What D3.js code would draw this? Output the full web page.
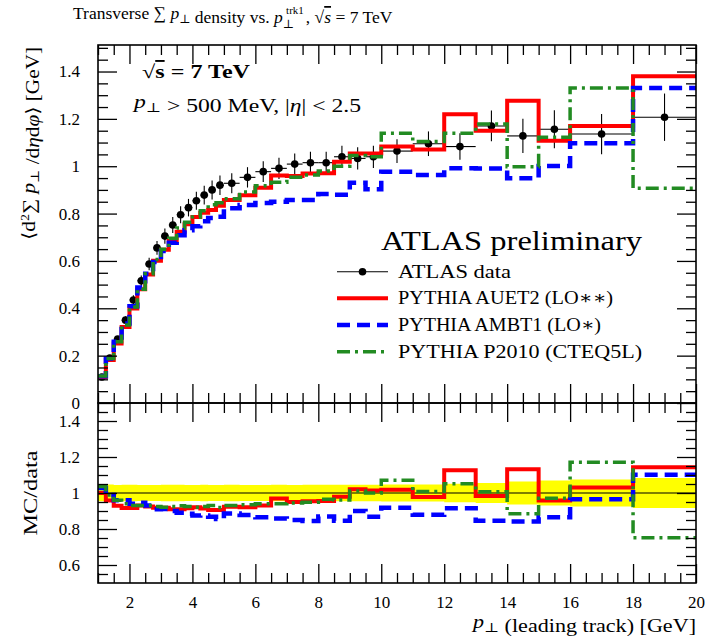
<!DOCTYPE html>
<html>
<head>
<meta charset="utf-8">
<script src="https://cdn.jsdelivr.net/npm/d3@7/dist/d3.min.js"></script>
<style>
  body { margin: 0; background: #fff; }
  svg { display: block; }
  text { font-family: "Liberation Serif", "DejaVu Serif", serif; fill: #000; }
</style>
</head>
<body>
<svg id="chart" width="706" height="640"></svg>
<script>
// Leading-track pT bin edges [GeV]
const binEdges = [1.0, 1.25, 1.5, 1.75, 2.0, 2.25, 2.5, 2.75, 3.0, 3.25, 3.5, 3.75, 4.0, 4.25, 4.5, 4.75, 5.0,
                  5.5, 6.0, 6.5, 7.0, 7.5, 8.0, 8.5, 9.0, 9.5, 10.0, 11, 12, 13, 14, 15, 16, 18, 20];

// ATLAS data: transverse sum pT density [GeV] and total uncertainty
const dataValues = [0.110, 0.190, 0.270, 0.350, 0.435, 0.516, 0.587, 0.655, 0.705, 0.752, 0.795, 0.825, 0.854, 0.878, 0.900, 0.920,
                    0.928, 0.953, 0.977, 0.991, 1.009, 1.015, 1.015, 1.040, 1.033, 1.040,
                    1.064, 1.095, 1.083, 1.170, 1.128, 1.156, 1.136, 1.207];
const dataErrors = [0.005, 0.009, 0.012, 0.016, 0.020, 0.023, 0.026, 0.029, 0.032, 0.034, 0.036, 0.037, 0.038, 0.040, 0.040, 0.041,
                    0.042, 0.043, 0.044, 0.045, 0.045, 0.046, 0.046, 0.047, 0.047, 0.047,
                    0.050, 0.052, 0.056, 0.065, 0.072, 0.080, 0.085, 0.100];

// PYTHIA AUET2 (LO**)
const auet2 = [0.110, 0.182, 0.251, 0.321, 0.399, 0.480, 0.543, 0.601, 0.647, 0.684, 0.723, 0.755, 0.786, 0.803, 0.815, 0.833,
               0.857, 0.877, 0.909, 0.961, 0.959, 0.969, 0.970, 1.019, 1.054, 1.054,
               1.083, 1.071, 1.220, 1.150, 1.277, 1.108, 1.170, 1.380];
// PYTHIA AMBT1 (LO*)
const ambt1 = [0.113, 0.188, 0.259, 0.336, 0.409, 0.488, 0.546, 0.596, 0.642, 0.677, 0.708, 0.730, 0.747, 0.768, 0.781, 0.787,
               0.822, 0.836, 0.845, 0.850, 0.857, 0.857, 0.883, 0.880, 0.930, 0.903,
               0.977, 0.963, 0.991, 0.990, 0.949, 1.001, 1.097, 1.330];
// PYTHIA P2010 (CTEQ5L)
const p2010 = [0.114, 0.188, 0.259, 0.329, 0.405, 0.480, 0.546, 0.606, 0.649, 0.696, 0.739, 0.763, 0.786, 0.812, 0.837, 0.846,
               0.863, 0.891, 0.918, 0.932, 0.953, 0.963, 0.980, 1.000, 1.045, 1.040,
               1.139, 1.104, 1.139, 1.178, 0.998, 1.122, 1.330, 0.907];

const xTickValues = [2, 4, 6, 8, 10, 12, 14, 16, 18, 20];
const mainYTicks = [0, 0.2, 0.4, 0.6, 0.8, 1.0, 1.2, 1.4];
const ratioYTicks = [0.6, 0.8, 1.0, 1.2, 1.4];

const series = [
  { name: "PYTHIA AUET2 (LO∗∗)", values: auet2, color: "#ff0000", width: 4, dash: null, legLen: 215 },
  { name: "PYTHIA AMBT1 (LO∗)", values: ambt1, color: "#0000ff", width: 4.5, dash: "13,7", legLen: 203 },
  { name: "PYTHIA P2010 (CTEQ5L)", values: p2010, color: "#228b22", width: 3.5, dash: "13,5,3,5", legLen: 244 }
];

const svg = d3.select("#chart");
const L = 98, R = 696, T = 45, MB = 403, RB = 583;

const x = d3.scaleLinear().domain([1, 20]).range([L, R]);
const y = d3.scaleLinear().domain([0, 1.512]).range([MB, T]);
const yr = d3.scaleLinear().domain([0.5, 1.5]).range([RB, MB]);

const defs = svg.append("defs");
defs.append("clipPath").attr("id", "clipMain").append("rect")
  .attr("x", L).attr("y", T).attr("width", R - L).attr("height", MB - T);
defs.append("clipPath").attr("id", "clipRatio").append("rect")
  .attr("x", L).attr("y", MB).attr("width", R - L).attr("height", RB - MB);

function stepPoints(vals) {
  const pts = [];
  vals.forEach((v, i) => { pts.push([binEdges[i], v]); pts.push([binEdges[i + 1], v]); });
  return pts;
}

// ---------- main panel ----------
const gMain = svg.append("g").attr("clip-path", "url(#clipMain)");

const bins = dataValues.map((v, i) => ({ lo: binEdges[i], hi: binEdges[i + 1], v, e: dataErrors[i] }));
const gData = gMain.append("g");
gData.selectAll("line.xe").data(bins).join("line")
  .attr("x1", d => x(d.lo)).attr("x2", d => x(d.hi))
  .attr("y1", d => y(d.v)).attr("y2", d => y(d.v))
  .attr("stroke", "#000").attr("stroke-width", 1.1);
gData.selectAll("line.ye").data(bins).join("line")
  .attr("x1", d => x((d.lo + d.hi) / 2)).attr("x2", d => x((d.lo + d.hi) / 2))
  .attr("y1", d => y(d.v - d.e)).attr("y2", d => y(d.v + d.e))
  .attr("stroke", "#000").attr("stroke-width", 1.1);
gData.selectAll("circle").data(bins).join("circle")
  .attr("cx", d => x((d.lo + d.hi) / 2)).attr("cy", d => y(d.v)).attr("r", 3.8)
  .attr("fill", "#000");

const lineMain = d3.line().x(d => x(d[0])).y(d => y(d[1]));
series.forEach(s => {
  gMain.append("path").attr("d", lineMain(stepPoints(s.values)))
    .attr("fill", "none").attr("stroke", s.color).attr("stroke-width", s.width)
    .attr("stroke-dasharray", s.dash);
});

// ---------- ratio panel ----------
const gRatio = svg.append("g").attr("clip-path", "url(#clipRatio)");
const band = d3.area().x(d => x(d[0])).y0(d => yr(1 - d[1])).y1(d => yr(1 + d[1]));
const relErr = dataErrors.map((e, i) => e / dataValues[i]);
gRatio.append("path").attr("d", band(stepPoints(relErr))).attr("fill", "#ffff00");
gRatio.append("line").attr("x1", L).attr("x2", R).attr("y1", yr(1)).attr("y2", yr(1))
  .attr("stroke", "#000").attr("stroke-width", 1.1);
const lineRatio = d3.line().x(d => x(d[0])).y(d => yr(d[1]));
series.forEach(s => {
  const r = s.values.map((v, i) => v / dataValues[i]);
  gRatio.append("path").attr("d", lineRatio(stepPoints(r)))
    .attr("fill", "none").attr("stroke", s.color).attr("stroke-width", s.width)
    .attr("stroke-dasharray", s.dash);
});

// ---------- axes ----------
const xMinor = d3.range(1, 20.01, 0.5).filter(v => Math.abs(v / 2 - Math.round(v / 2)) > 1e-6);
function styleAxis(g) {
  g.select(".domain").remove();
  g.selectAll(".tick line").attr("stroke", "#000").attr("stroke-width", 1.3);
  g.selectAll(".tick text").style("font-family", '"Liberation Serif", serif').style("font-size", "17px");
}
function xAxes(yPos, dir, showLabels) {
  const mk = dir === "top" ? d3.axisTop : d3.axisBottom;
  svg.append("g").attr("transform", `translate(0,${yPos})`)
    .call(mk(x).tickValues(xTickValues).tickSizeInner(-19).tickSizeOuter(0).tickPadding(13)
      .tickFormat(showLabels ? d3.format("d") : ""))
    .call(styleAxis);
  svg.append("g").attr("transform", `translate(0,${yPos})`)
    .call(mk(x).tickValues(xMinor).tickSizeInner(-10).tickSizeOuter(0).tickFormat(""))
    .call(styleAxis);
}
xAxes(T, "top", false);
xAxes(MB, "bottom", false);
xAxes(MB, "top", false);
xAxes(RB, "bottom", true);

function yAxes(scale, majors, lo, hi, fmt) {
  const minors = d3.range(lo, hi + 1e-6, 0.05).filter(v => !majors.some(m => Math.abs(m - v) < 1e-6));
  [["left", L], ["right", R]].forEach(([side, xp]) => {
    const mk = side === "left" ? d3.axisLeft : d3.axisRight;
    svg.append("g").attr("transform", `translate(${xp},0)`)
      .call(mk(scale).tickValues(majors).tickSizeInner(-19).tickSizeOuter(0).tickPadding(18)
        .tickFormat(side === "left" ? fmt : ""))
      .call(styleAxis);
    svg.append("g").attr("transform", `translate(${xp},0)`)
      .call(mk(scale).tickValues(minors).tickSizeInner(-10).tickSizeOuter(0).tickFormat(""))
      .call(styleAxis);
  });
}
const yFmt = v => (v === 0 ? "0" : v === 1 ? "1" : d3.format(".1f")(v));
yAxes(y, mainYTicks, 0.05, 1.5, yFmt);
yAxes(yr, ratioYTicks, 0.55, 1.45, yFmt);

// frames
svg.append("rect").attr("x", L).attr("y", T).attr("width", R - L).attr("height", MB - T)
  .attr("fill", "none").attr("stroke", "#000").attr("stroke-width", 1.6);
svg.append("rect").attr("x", L).attr("y", MB).attr("width", R - L).attr("height", RB - MB)
  .attr("fill", "none").attr("stroke", "#000").attr("stroke-width", 1.6);

// ---------- texts ----------
function fit(t, len) {
  return t.attr("textLength", len).attr("lengthAdjust", "spacingAndGlyphs");
}
function pPerp(t, subSize) {
  t.append("tspan").attr("font-style", "italic").text("p");
  t.append("tspan").attr("dy", 4).attr("font-size", subSize).text("⊥");
  t.append("tspan").attr("dy", -4).text("");
}

// title
const title = svg.append("text").attr("x", 73).attr("y", 19).attr("font-size", 17.5);
title.append("tspan").text("Transverse ∑ ");
pPerp(title, 12);
title.append("tspan").text(" density vs. ");
title.append("tspan").attr("font-style", "italic").text("p");
title.append("tspan").attr("dy", 5).attr("font-size", 12).text("⊥");
title.append("tspan").attr("dx", -8).attr("dy", -14).attr("font-size", 11).text("trk1");
title.append("tspan").attr("dx", 2).attr("dy", 9).text(", √");
title.append("tspan").attr("font-style", "italic").style("text-decoration", "overline").text("s");
title.append("tspan").text(" = 7 TeV");

// y-axis label (main)
const yl = svg.append("text").attr("transform", "translate(35,47) rotate(-90)")
  .attr("text-anchor", "end").attr("font-size", 18);
yl.append("tspan").text("⟨d");
yl.append("tspan").attr("dy", -6).attr("font-size", 12).text("2");
yl.append("tspan").attr("dy", 6).text("∑ ");
pPerp(yl, 12);
yl.append("tspan").text(" /d");
yl.append("tspan").attr("font-style", "italic").text("η");
yl.append("tspan").text("d");
yl.append("tspan").attr("font-style", "italic").text("φ");
yl.append("tspan").text("⟩ [GeV]");
fit(yl, 193);

// y-axis label (ratio)
fit(svg.append("text").attr("transform", `translate(37,${(MB + RB) / 2}) rotate(-90)`)
  .attr("text-anchor", "middle").attr("font-size", 18).text("MC/data"), 85);

// x-axis label
const xl = svg.append("text").attr("x", R).attr("y", 628).attr("text-anchor", "end").attr("font-size", 18);
pPerp(xl, 13);
xl.append("tspan").text(" (leading track) [GeV]");
fit(xl, 223);

// cuts annotation
const a1 = svg.append("text").attr("x", 142).attr("y", 78).attr("font-size", 19).attr("font-weight", "bold");
a1.append("tspan").text("√");
a1.append("tspan").style("text-decoration", "overline").text("s");
a1.append("tspan").text(" = 7 TeV");
fit(a1, 108);
const a2 = svg.append("text").attr("x", 134).attr("y", 108).attr("font-size", 19);
pPerp(a2, 13);
a2.append("tspan").text(" > 500 MeV, |");
a2.append("tspan").attr("font-style", "italic").text("η");
a2.append("tspan").text("| < 2.5");
fit(a2, 227);

// legend
fit(svg.append("text").attr("x", 381).attr("y", 250).attr("font-size", 27).text("ATLAS preliminary"), 261);
const legX0 = 337, legX1 = 388, legTx = 398;
const legY = [271.7, 298.3, 325, 351.7];
svg.append("line").attr("x1", legX0).attr("x2", legX1).attr("y1", legY[0]).attr("y2", legY[0])
  .attr("stroke", "#000").attr("stroke-width", 1.1);
svg.append("circle").attr("cx", (legX0 + legX1) / 2).attr("cy", legY[0]).attr("r", 3.8).attr("fill", "#000");
fit(svg.append("text").attr("x", legTx).attr("y", legY[0] + 6).attr("font-size", 18).text("ATLAS data"), 113);
series.forEach((s, i) => {
  const yy = legY[i + 1];
  svg.append("line").attr("x1", legX0).attr("x2", legX1).attr("y1", yy).attr("y2", yy)
    .attr("stroke", s.color).attr("stroke-width", s.width).attr("stroke-dasharray", s.dash);
  fit(svg.append("text").attr("x", legTx).attr("y", yy + 6).attr("font-size", 18).text(s.name), s.legLen);
});
</script>
</body>
</html>
